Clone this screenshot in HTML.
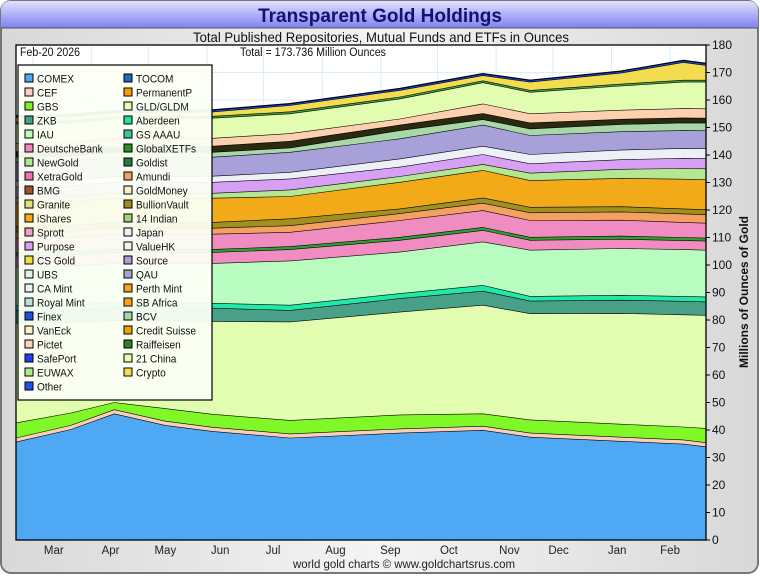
<!DOCTYPE html>
<html><head><meta charset="utf-8"><style>
body{margin:0;width:760px;height:575px;overflow:hidden;background:#fff;font-family:"Liberation Sans",sans-serif}
svg text{font-family:"Liberation Sans Narrow","Liberation Sans",sans-serif}
</style></head><body>
<svg id="chart" width="760" height="575" viewBox="0 0 760 575">
<defs>
<linearGradient id="bg" x1="0" y1="0" x2="1" y2="0"><stop offset="0" stop-color="#d8d8d8"/><stop offset="0.5" stop-color="#f4f4f4"/><stop offset="1" stop-color="#d8d8d8"/></linearGradient>
<linearGradient id="tb" x1="0" y1="0" x2="0" y2="1"><stop offset="0" stop-color="#e0e0ff"/><stop offset="1" stop-color="#8080f0"/></linearGradient>
</defs>
<rect x="1" y="1" width="757" height="572" rx="10" fill="url(#bg)" stroke="#777" stroke-width="2"/>
<path d="M1 28 V11 Q1 1 11 1 H748 Q758 1 758 11 V28 Z" fill="url(#tb)"/>
<line x1="1" y1="28" x2="758" y2="28" stroke="#555" stroke-width="1"/>
<text x="380" y="22" text-anchor="middle" font-size="19" font-weight="bold" fill="#121270">Transparent Gold Holdings</text>
<text x="193" y="42" textLength="376" lengthAdjust="spacingAndGlyphs" font-size="14" fill="#111">Total Published Repositories, Mutual Funds and ETFs in Ounces</text>
<rect x="16" y="45" width="690" height="495" fill="#fff"/>
<g id="grid"></g>
<g id="layers"></g>
<g id="axes"></g>
<rect x="16" y="45" width="690" height="495" fill="none" stroke="#000" stroke-width="1.3"/>
<text x="20" y="56" textLength="60" lengthAdjust="spacingAndGlyphs" font-size="11.5" fill="#111">Feb-20  2026</text>
<text x="240" y="56" textLength="146" lengthAdjust="spacingAndGlyphs" font-size="11.5" fill="#111">Total = 173.736 Million Ounces</text>
<g id="legend"></g>
<text transform="translate(748,292) rotate(-90)" text-anchor="middle" font-size="12" font-weight="bold" fill="#111">Millions of Ounces of Gold</text>
<text x="293" y="568" textLength="222" lengthAdjust="spacingAndGlyphs" font-size="12" fill="#222">world gold charts © www.goldchartsrus.com</text>
</svg>
<script>
// day offsets from Feb-20 2025
const days = [0, 29, 52, 79, 104, 145, 203, 247, 272, 320, 353, 365];
const seriesNames = ["COMEX","CEF","GBS","GLD","ZKB","Aberdeen","IAU","XetraGold","GlobalXETFs","DeutscheBank","Amundi","BullionVault","iShares","NewGold","Purpose","Japan","QAU","BCV","Misc","Pictet","GLDM","Raiffeisen","Crypto","Other"];
const comex = [35.7,40.3,46.0,41.8,39.6,37.2,39.0,40.0,37.5,36.0,35.0,34.0];
const cef = [1.5,1.5,1.5,1.5,1.5,1.5,1.5,1.5,1.5,1.5,1.5,1.5];
const gbs = [5.5,4.5,2.6,4.6,4.7,4.9,5.1,4.5,4.8,4.7,4.7,5.2];
const gld = [36.3,32.9,29.8,31.9,33.8,35.8,37.4,39.5,38.6,40.3,40.8,41.1];
const zkb = [4.6,4.6,4.7,4.7,4.8,4.2,4.9,5.1,4.6,4.8,4.9,4.9];
const aberdeen = [1.8,1.8,1.8,1.8,1.8,1.9,1.8,2.1,1.7,1.8,1.8,1.8];
const iau = [14.0,14.1,14.3,14.4,14.5,16.1,15.1,15.8,16.8,17.0,17.0,17.0];
const xetra = [4.0,4.0,4.0,4.0,4.0,4.1,4.3,4.2,3.6,3.4,3.3,3.3];
const globalx = [1.1,1.1,1.1,1.1,1.1,1.1,1.1,1.1,1.1,1.1,1.1,1.1];
const deutsche = [5.4,5.4,5.5,5.5,5.5,5.2,6.1,6.1,6.1,5.8,5.5,5.4];
const amundi = [2.2,2.2,2.2,2.2,2.2,2.4,2.5,2.7,2.8,3.0,3.1,3.1];
const bullion = [2.1,2.1,2.1,2.1,2.1,2.5,1.7,1.9,2.0,1.9,1.8,1.8];
const ishares = [8.5,8.6,8.7,8.7,8.8,8.1,9.7,10.0,9.7,10.3,10.8,10.9];
const newgold = [1.8,1.8,1.8,1.8,1.8,2.4,2.1,2.2,2.7,3.3,3.9,4.0];
const purpose = [4.0,4.0,4.0,4.0,4.0,4.0,3.4,3.6,3.4,3.5,3.7,3.7];
const japan = [2.2,2.2,2.2,2.2,2.2,2.4,3.0,3.0,3.4,3.5,3.6,3.6];
const qau = [6.8,6.8,6.9,6.9,6.9,7.3,7.3,7.7,6.9,6.7,6.5,6.5];
const bcv = [1.8,1.8,1.8,1.8,1.8,1.6,3.0,2.0,2.4,2.6,2.8,2.8];
const misc = [2.0,2.0,2.0,2.1,2.2,2.4,2.0,2.2,2.2,1.9,1.8,1.8];
const pictet = [2.9,2.9,2.9,2.9,2.9,2.8,2.2,3.5,3.3,3.3,3.4,3.4];
const gldm = [7.2,7.2,7.3,7.3,7.3,7.2,7.3,7.7,7.8,8.8,9.6,9.7];
const raiff = [0.7,0.7,0.7,0.7,0.7,0.7,0.7,0.7,0.7,0.7,0.7,0.7];
const crypto = [1.6,1.6,1.6,1.6,1.6,2.3,2.4,1.9,3.0,4.0,6.5,5.4];
const other = [0.6,0.6,0.6,0.6,0.6,0.6,0.6,0.6,0.6,0.6,0.6,0.6];
const yTicks = [0,10,20,30,40,50,60,70,80,90,100,110,120,130,140,150,160,170,180];
const monthLabels = ["Mar","Apr","May","Jun","Jul","Aug","Sep","Oct","Nov","Dec","Jan","Feb"];
const monthDays = [20,50,79,108,136,169,198,229,261,287,318,346];
const monthStarts = [9,40,70,101,131,162,193,223,254,284,315,346];
const legendLabels = ["COMEX","TOCOM","CEF","PermanentP","GBS","GLD/GLDM","ZKB","Aberdeen","IAU","GS AAAU","DeutscheBank","GlobalXETFs","NewGold","Goldist","XetraGold","Amundi","BMG","GoldMoney","Granite","BullionVault","iShares","14 Indian","Sprott","Japan","Purpose","ValueHK","CS Gold","Source","UBS","QAU","CA Mint","Perth Mint","Royal Mint","SB Africa","Finex","BCV","VanEck","Credit Suisse","Pictet","Raiffeisen","SafePort","21 China","EUWAX","Crypto","Other"];

const seriesData = [comex,cef,gbs,gld,zkb,aberdeen,iau,xetra,globalx,deutsche,amundi,bullion,ishares,newgold,purpose,japan,qau,bcv,misc,pictet,gldm,raiff,crypto,other];
const seriesColors = ["#4ea8f4","#fcd0b8","#80f828","#e2fcb0","#48a088","#20e8a8","#b8fcc0","#f08cc0","#30a030","#f08cc0","#f4a060","#a09020","#f2aa18","#b4e890","#d8a0f4","#eef0f8","#a8a0d8","#a8d8a8","#2a2a10","#fdd0b0","#e2fcb0","#40a040","#f4dc50","#1848e8"];
const legendColors = ["#4ea8f4","#1a6ab8","#fcd0c0","#f4a000","#80f020","#e4fcb0","#48a088","#20e0a0","#b8fcc0","#40c0a0","#f088c0","#289028","#b0e890","#208040","#f070b0","#f4a060","#a05030","#f8f0c0","#e0e080","#a08c20","#f4aa18","#a0d080","#f0a0c0","#f0f0f8","#d8a0f4","#f8f8e0","#e8e040","#a8a0d8","#e0f0f0","#a8a0d8","#e8f4f0","#f4a020","#c0e0e0","#f8a020","#2050e0","#a8d8a8","#f8f0c0","#f0a000","#fcd0c0","#308030","#2040f0","#e4fcb0","#b0e890","#f4dc50","#2050f0"];

const NS="http://www.w3.org/2000/svg";
const X0=16,X1=706,Y0=540,Y1=45;
function xScale(d){return X0+(d/365)*(X1-X0);}
function yScale(v){return Y0-(v/180)*(Y0-Y1);}
function mk(tag,attrs,parent){const e=document.createElementNS(NS,tag);for(const k in attrs)e.setAttribute(k,attrs[k]);parent.appendChild(e);return e;}

const grid=document.getElementById('grid');
yTicks.forEach(v=>{const l=mk('line',{x1:X0,x2:X1,y1:yScale(v),y2:yScale(v),stroke:'#dcecfa','stroke-width':1},grid);

});
monthStarts.forEach(d=>{const l=mk('line',{x1:xScale(d),x2:xScale(d),y1:Y1,y2:Y0,stroke:'#dcecfa','stroke-width':1},grid);

});

const layers=document.getElementById('layers');
let base=days.map(()=>0);
seriesData.forEach((s,i)=>{
  const top=base.map((b,j)=>b+s[j]);
  const up=days.map((d,j)=>xScale(d).toFixed(1)+','+yScale(top[j]).toFixed(1));
  const dn=days.map((d,j)=>xScale(d).toFixed(1)+','+yScale(base[j]).toFixed(1)).reverse();
  const p=mk('polygon',{points:up.concat(dn).join(' '),fill:seriesColors[i]},layers);
  
  
  const ln=mk('polyline',{points:up.join(' '),fill:'none',stroke:'#000','stroke-width':1.2},layers);
  
  
  base=top;
});

const axes=document.getElementById('axes');
yTicks.forEach(v=>{
  const t=mk('text',{x:712,y:yScale(v)+4,'font-size':12,fill:'#111'},axes);
  t.textContent=v;
  
  
  mk('line',{x1:X1,x2:X1+4,y1:yScale(v),y2:yScale(v),stroke:'#000'},axes);
});
monthLabels.forEach((m,i)=>{
  const t=mk('text',{x:xScale(monthDays[i]),y:554,'font-size':11.5,'text-anchor':'middle',fill:'#222'},axes);
  t.textContent=m;
  
  
});

const lg=document.getElementById('legend');
const box=mk('rect',{x:18,y:65,width:194,height:335,fill:'#fbfff4','fill-opacity':0.95,stroke:'#000','stroke-width':1.2},lg);


legendLabels.forEach((lab,i)=>{
  const col=i%2,row=Math.floor(i/2);
  const x=col?124:25,y=74+row*14;
  const r=mk('rect',{x:x,y:y,width:8,height:8,fill:legendColors[i],stroke:'#000','stroke-width':1},lg);
  
  
  const t=mk('text',{x:x+12,y:y+8.5,'font-size':11,fill:'#111'},lg);
  t.textContent=lab;
  t.setAttribute('transform','translate('+(x+12)+',0) scale(0.92,1) translate('+(-(x+12))+',0)');
  
  
});
</script>
</body></html>
